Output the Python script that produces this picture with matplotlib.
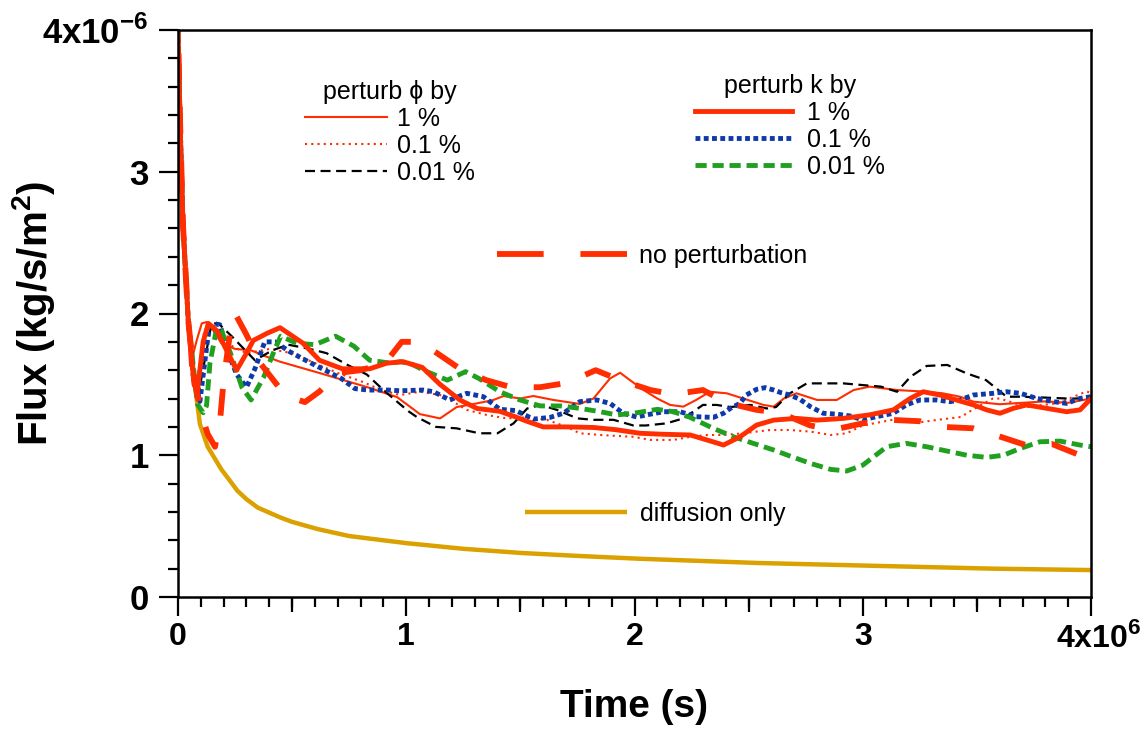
import matplotlib
matplotlib.use('Agg')
import numpy as np
import matplotlib.pyplot as plt
from matplotlib.ticker import MultipleLocator
from matplotlib.lines import Line2D
from matplotlib.transforms import ScaledTranslation

plt.rcParams['font.family'] = ['Liberation Sans', 'DejaVu Sans']
plt.rcParams['mathtext.fontset'] = 'custom'
plt.rcParams['mathtext.rm'] = 'Liberation Sans:bold'
plt.rcParams['mathtext.bf'] = 'Liberation Sans:bold'

# time in 1e6 s, flux in 1e-6 kg/s/m2
t_diff = [0, 0.01, 0.022, 0.045, 0.074, 0.096, 0.13, 0.19, 0.223, 0.26, 0.3, 0.35, 0.45, 0.5, 0.61, 0.75, 1.0,
          1.25, 1.51, 1.75, 2.02, 2.54, 3.05, 3.57, 4.0]
f_diff = [4.0, 3.2, 2.6, 1.95, 1.5, 1.22, 1.06, 0.90, 0.83, 0.75, 0.69, 0.63, 0.56, 0.53, 0.48, 0.43, 0.38,
          0.34, 0.31, 0.29, 0.27, 0.24, 0.22, 0.20, 0.19]

t_none = [0, 0.01, 0.022, 0.045, 0.07, 0.1, 0.13, 0.162, 0.184, 0.2, 0.232, 0.25, 0.30, 0.36, 0.447, 0.49, 0.556,
          0.62, 0.70, 0.80, 0.907, 0.98, 1.05, 1.126, 1.235, 1.35, 1.46, 1.586, 1.703, 1.83, 1.937, 2.07, 2.17, 2.3,
          2.404, 2.535, 2.637, 2.77, 2.87, 3.0, 3.12, 3.25, 3.35, 3.485, 3.585, 3.718, 3.828, 3.952, 4.0]
f_none = [4.0, 3.3, 2.62, 1.95, 1.55, 1.30, 1.15, 1.06, 1.24, 1.53, 1.91, 2.0, 1.85, 1.65, 1.47, 1.41, 1.375,
          1.45, 1.58, 1.60, 1.65, 1.80, 1.80, 1.73, 1.61, 1.53, 1.48, 1.48, 1.51, 1.60, 1.53, 1.46, 1.43, 1.46,
          1.37, 1.32, 1.30, 1.21, 1.18, 1.225, 1.25, 1.24, 1.20, 1.19, 1.14, 1.07, 1.08, 1.0, 0.99]

# perturb k by 1 %
t_k1 = [0, 0.01, 0.022, 0.045, 0.07, 0.085, 0.11, 0.133, 0.17, 0.21, 0.257, 0.30, 0.33, 0.39, 0.447, 0.548, 0.62,
        0.72, 0.84, 0.915, 0.986, 1.07, 1.148, 1.235, 1.31, 1.41, 1.48, 1.528, 1.6, 1.703, 1.82, 1.92, 2.024, 2.127,
        2.244, 2.317, 2.39, 2.462, 2.535, 2.61, 2.71, 2.8, 2.915, 3.03, 3.134, 3.207, 3.265, 3.338, 3.41, 3.485,
        3.543, 3.601, 3.66, 3.718, 3.806, 3.893, 3.952, 4.0]
f_k1 = [4.0, 3.3, 2.62, 1.95, 1.50, 1.45, 1.80, 1.93, 1.88, 1.75, 1.60, 1.72, 1.81, 1.86, 1.90, 1.79, 1.67,
        1.61, 1.61, 1.65, 1.66, 1.62, 1.50, 1.39, 1.33, 1.31, 1.27, 1.24, 1.20, 1.20, 1.196, 1.18, 1.155, 1.148,
        1.143, 1.108, 1.072, 1.13, 1.213, 1.248, 1.26, 1.248, 1.26, 1.285, 1.32, 1.40, 1.448, 1.425, 1.39, 1.355,
        1.32, 1.296, 1.331, 1.355, 1.331, 1.307, 1.32, 1.40]

# perturb k by 0.1 %
t_k01 = [0, 0.01, 0.022, 0.045, 0.07, 0.096, 0.133, 0.155, 0.184, 0.22, 0.257, 0.30, 0.337, 0.38, 0.425, 0.49,
         0.571, 0.644, 0.717, 0.775, 0.834, 0.92, 0.973, 1.075, 1.12, 1.19, 1.265, 1.338, 1.41, 1.48, 1.557, 1.63,
         1.688, 1.76, 1.834, 1.893, 1.95, 2.01, 2.05, 2.127, 2.2, 2.27, 2.345, 2.39, 2.42, 2.462, 2.49, 2.535,
         2.572, 2.61, 2.644, 2.68, 2.725, 2.77, 2.827, 2.886, 2.945, 3.0, 3.06, 3.134, 3.19, 3.25, 3.324, 3.382,
         3.426, 3.485, 3.572, 3.63, 3.69, 3.762, 3.835, 3.893, 3.952, 4.0]
f_k01 = [4.0, 3.3, 2.62, 1.95, 1.55, 1.38, 1.86, 1.93, 1.92, 1.72, 1.57, 1.48, 1.61, 1.80, 1.80, 1.73,
         1.66, 1.60, 1.54, 1.47, 1.46, 1.46, 1.455, 1.46, 1.448, 1.39, 1.437, 1.413, 1.324, 1.315, 1.255, 1.267,
         1.296, 1.378, 1.39, 1.366, 1.296, 1.27, 1.284, 1.307, 1.307, 1.272, 1.267, 1.296, 1.331, 1.366, 1.425, 1.465,
         1.477, 1.46, 1.44, 1.425, 1.395, 1.343, 1.296, 1.29, 1.277, 1.25, 1.272, 1.296, 1.355, 1.39, 1.39, 1.378,
         1.39, 1.425, 1.437, 1.448, 1.437, 1.401, 1.378, 1.366, 1.401, 1.413]

# perturb k by 0.01 %
t_k001 = [0, 0.01, 0.022, 0.045, 0.074, 0.085, 0.11, 0.125, 0.14, 0.17, 0.19, 0.23, 0.28, 0.32, 0.375, 0.42, 0.45,
          0.52, 0.60, 0.69, 0.77, 0.84, 0.93, 0.973, 1.017, 1.09, 1.18, 1.26, 1.32, 1.41, 1.498, 1.587, 1.675, 1.76,
          1.85, 1.924, 2.01, 2.1, 2.17, 2.244, 2.345, 2.434, 2.52, 2.61, 2.68, 2.77, 2.86, 2.93, 3.0, 3.105, 3.19,
          3.28, 3.368, 3.456, 3.543, 3.616, 3.69, 3.776, 3.864, 3.952, 4.0]
f_k001 = [4.0, 3.3, 2.62, 1.95, 1.53, 1.36, 1.30, 1.35, 1.65, 1.90, 1.88, 1.72, 1.48, 1.39, 1.55, 1.73, 1.84,
          1.79, 1.78, 1.84, 1.77, 1.67, 1.65, 1.66, 1.648, 1.59, 1.53, 1.59, 1.54, 1.448, 1.39, 1.348, 1.348, 1.331,
          1.307, 1.284, 1.30, 1.324, 1.307, 1.267, 1.19, 1.13, 1.084, 1.037, 0.995, 0.943, 0.90, 0.889, 0.93, 1.06,
          1.084, 1.06, 1.03, 1.0, 0.985, 1.0, 1.048, 1.095, 1.10, 1.072, 1.06]

# perturb phi by 1 %
t_p1 = [0, 0.01, 0.022, 0.04, 0.053, 0.082, 0.104, 0.126, 0.147, 0.19, 0.25, 0.32, 0.38, 0.447, 0.62, 0.83,
        0.96, 1.06, 1.148, 1.221, 1.31, 1.382, 1.426, 1.5, 1.557, 1.645, 1.76, 1.82, 1.893, 1.937, 1.98, 2.04, 2.1,
        2.156, 2.214, 2.27, 2.33, 2.404, 2.477, 2.565, 2.61, 2.654, 2.71, 2.8, 2.886, 2.96, 3.03, 3.15, 3.28, 3.35,
        3.426, 3.485, 3.6, 3.7, 3.8, 3.9, 4.0]
f_p1 = [4.0, 3.3, 2.62, 2.0, 1.63, 1.81, 1.93, 1.94, 1.90, 1.79, 1.75, 1.74, 1.70, 1.66, 1.58, 1.48,
        1.41, 1.29, 1.26, 1.34, 1.366, 1.39, 1.418, 1.40, 1.418, 1.39, 1.362, 1.40, 1.542, 1.582, 1.53, 1.46, 1.40,
        1.355, 1.343, 1.39, 1.448, 1.437, 1.40, 1.355, 1.343, 1.40, 1.437, 1.39, 1.39, 1.46, 1.484, 1.46, 1.448, 1.437,
        1.413, 1.378, 1.36, 1.37, 1.38, 1.37, 1.40]

# perturb phi by 0.1 %
t_p01 = [0, 0.01, 0.022, 0.045, 0.06, 0.075, 0.09, 0.115, 0.14, 0.2, 0.3, 0.4, 0.5, 0.6, 0.7, 0.805, 0.892, 0.973,
         1.06, 1.148, 1.206, 1.265, 1.353, 1.44, 1.528, 1.616, 1.703, 1.76, 1.85, 1.995, 2.07, 2.17, 2.244, 2.32,
         2.39, 2.477, 2.535, 2.594, 2.68, 2.77, 2.86, 2.93, 3.0, 3.13, 3.24, 3.33, 3.43, 3.48, 3.57, 3.6, 3.72, 3.86,
         3.98, 4.0]
f_p01 = [4.0, 3.3, 2.62, 1.95, 1.55, 1.45, 1.60, 1.88, 1.92, 1.80, 1.72, 1.75, 1.72, 1.65, 1.58, 1.52, 1.46, 1.425,
         1.448, 1.425, 1.378, 1.32, 1.284, 1.26, 1.267, 1.25, 1.20, 1.155, 1.143, 1.13, 1.108, 1.108, 1.13, 1.143,
         1.143, 1.155, 1.167, 1.178, 1.178, 1.167, 1.143, 1.155, 1.21, 1.25, 1.23, 1.25, 1.27, 1.32, 1.40, 1.40, 1.34,
         1.37, 1.45, 1.44]

# perturb phi by 0.01 %
t_p001 = [0, 0.01, 0.022, 0.045, 0.07, 0.085, 0.147, 0.177, 0.235, 0.337, 0.413, 0.483, 0.578, 0.651, 0.739, 0.827,
          0.90, 0.973, 1.01, 1.046, 1.13, 1.22, 1.32, 1.40, 1.47, 1.53, 1.59, 1.66, 1.75, 1.82, 1.908, 1.995, 2.05,
          2.14, 2.214, 2.30, 2.36, 2.42, 2.507, 2.58, 2.62, 2.68, 2.755, 2.83, 2.915, 3.0, 3.08, 3.15, 3.21, 3.28,
          3.37, 3.455, 3.54, 3.585, 3.63, 3.69, 3.75, 3.9, 4.0]
f_p001 = [4.0, 3.3, 2.62, 1.95, 1.55, 1.39, 1.93, 1.93, 1.84, 1.67, 1.74, 1.78, 1.75, 1.72, 1.64, 1.57,
          1.46, 1.36, 1.31, 1.27, 1.20, 1.19, 1.155, 1.155, 1.225, 1.33, 1.355, 1.32, 1.26, 1.25, 1.25, 1.21, 1.21,
          1.225, 1.26, 1.355, 1.355, 1.34, 1.355, 1.33, 1.34, 1.436, 1.507, 1.507, 1.507, 1.495, 1.484, 1.448, 1.555,
          1.63, 1.637, 1.578, 1.53, 1.472, 1.413, 1.413, 1.41, 1.40, 1.40]

x_ticks = [0, 1, 2, 3, 4]
x_ticklabels = ['0', '1', '2', '3', '4x10$^{6}$']
y_ticks = [0, 1, 2, 3, 4]
y_ticklabels = ['0', '1', '2', '3', '4x10$^{-6}$']

RED = '#ff2d00'
BLUE = '#0d3aa8'
GREEN = '#1fa01f'
GOLD = '#dba100'
NONE_LW = 4.2
NONE_DASH = (4.6, 4.6)

fig = plt.figure(figsize=(11.46, 7.31), dpi=100)
ax = fig.add_axes([178 / 1146, 1 - 597 / 731, 913 / 1146, 567 / 731])
ax.set_xlim(0, 4)
ax.set_ylim(0, 4)

# phase the long dashes so one starts where the original has one (t = 1.126e6 s)
pix = ax.transData.transform(np.column_stack([t_none, f_none]))
arc = np.concatenate([[0], np.cumsum(np.hypot(*np.diff(pix, axis=0).T))])
unit = NONE_LW * fig.dpi / 72
period = sum(NONE_DASH) * unit
none_offset = ((-arc[t_none.index(1.126)]) % period) / unit

h_diff, = ax.plot(t_diff, f_diff, color=GOLD, lw=3.2, solid_capstyle='butt')
h_p1, = ax.plot(t_p1, f_p1, color=RED, lw=1.5)
h_p01, = ax.plot(t_p01, f_p01, color=RED, lw=1.5, linestyle=(0, (1, 2)))
h_p001, = ax.plot(t_p001, f_p001, color='black', lw=1.6, linestyle=(0, (4.5, 2.5)))
h_k01, = ax.plot(t_k01, f_k01, color=BLUE, lw=3.5, linestyle=(0, (1, 0.7)), dash_capstyle='butt')
h_k001, = ax.plot(t_k001, f_k001, color=GREEN, lw=3.5, linestyle=(0, (2.3, 1.2)), dash_capstyle='butt')
h_none, = ax.plot(t_none, f_none, color=RED, lw=NONE_LW, linestyle=(none_offset, NONE_DASH),
                  dash_capstyle='butt')
h_k1, = ax.plot(t_k1, f_k1, color=RED, lw=3.5)

# legend sample for "no perturbation" uses longer dashes, as in the original key
none_key = Line2D([], [], color=RED, lw=NONE_LW, linestyle=(0, (8, 6.3)), dash_capstyle='butt')

ax.set_xticks(x_ticks)
ax.set_xticklabels(x_ticklabels)
ax.set_yticks(y_ticks)
ax.set_yticklabels(y_ticklabels)
ax.xaxis.set_minor_locator(MultipleLocator(0.1))
ax.yaxis.set_minor_locator(MultipleLocator(0.2))
ax.tick_params(which='major', direction='out', length=14, width=1.6)
ax.tick_params(axis='x', which='major', pad=4, labelsize=23)
ax.tick_params(axis='y', which='major', pad=7, labelsize=25)
ax.tick_params(which='minor', direction='out', length=7, width=1.6)
for lab in ax.get_xticklabels() + ax.get_yticklabels():
    lab.set_fontweight('bold')
# last time label sits a little right of its tick in the original
last = ax.get_xticklabels()[-1]
last.set_transform(last.get_transform() + ScaledTranslation(0.08, 0, fig.dpi_scale_trans))

# half-way ticks on time axis are a bit longer
sec = ax.secondary_xaxis('bottom')
sec.set_xticks([0.5, 1.5, 2.5, 3.5])
sec.tick_params(direction='out', length=11, width=1.6, labelbottom=False)
sec.spines['bottom'].set_visible(False)

for s in ax.spines.values():
    s.set_linewidth(1.8)

ax.set_xlabel('Time (s)', fontsize=28, fontweight='bold')
ax.xaxis.set_label_coords(0.5, -0.162)
ax.set_ylabel('Flux (kg/s/m$^{2}$)', fontsize=29, fontweight='bold')
ax.yaxis.set_label_coords(-0.133, 0.5)

leg_kw = dict(frameon=False, fontsize=18, borderpad=0, borderaxespad=0, labelspacing=0.12)
leg1 = ax.legend([h_p1, h_p01, h_p001], ['1 %', '0.1 %', '0.01 %'], title='perturb ϕ by',
                 title_fontsize=18, loc='upper left', bbox_to_anchor=(0.139, 0.912),
                 handlelength=3.3, handletextpad=0.4, **leg_kw)
ax.add_artist(leg1)
leg2 = ax.legend([h_k1, h_k01, h_k001], ['1 %', '0.1 %', '0.01 %'], title='perturb k by',
                 title_fontsize=18, loc='upper left', bbox_to_anchor=(0.566, 0.922),
                 handlelength=3.9, handletextpad=0.6, **leg_kw)
ax.add_artist(leg2)
leg3 = ax.legend([none_key], ['no perturbation'], loc='upper left', bbox_to_anchor=(0.349, 0.623),
                 handlelength=5.2, handletextpad=0.5, **leg_kw)
ax.add_artist(leg3)
ax.legend([h_diff], ['diffusion only'], loc='upper left', bbox_to_anchor=(0.380, 0.168),
          handlelength=4.1, handletextpad=0.5, **leg_kw)

fig.savefig('out.png', dpi=100)
